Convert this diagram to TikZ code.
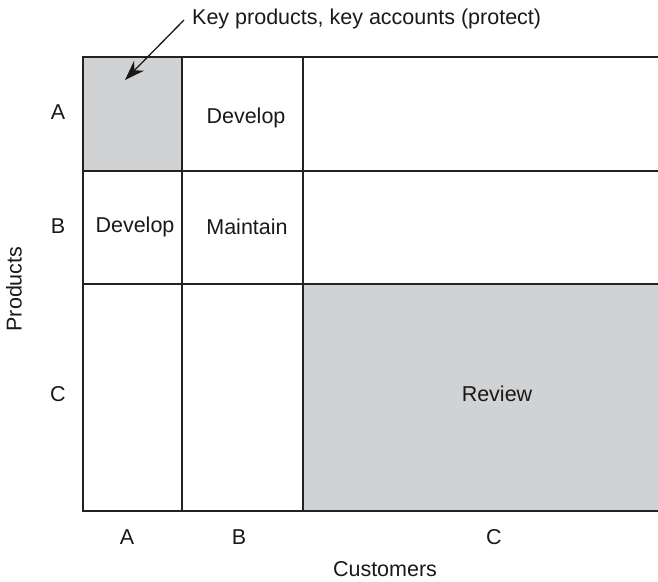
\documentclass[tikz,border=0pt]{standalone}
\usepackage{fontspec}
\setmainfont{Liberation Sans}
\usetikzlibrary{arrows.meta}
\definecolor{gridline}{HTML}{222222}
\definecolor{cellgray}{HTML}{D1D2D4}
\begin{document}
\begin{tikzpicture}[x=1pt,y=-1pt,
  every node/.style={font=\fontsize{21.5}{24}\selectfont, text=black!90, inner sep=0pt},
  cellbox/.style={draw=gridline, line width=1.8pt},
  pointer/.style={-{Stealth[length=20pt,width=14pt]}, line width=1.3pt, draw=black!90}]
\useasboundingbox (0,0) rectangle (658,581);
% shaded cells
\fill[cellgray] (83,57) rectangle (182,171);
\fill[cellgray] (303,284) rectangle (700,511);
% grid
\draw[cellbox] (83,57) rectangle (700,511);
\draw[cellbox] (182,57) -- (182,511);
\draw[cellbox] (303,57) -- (303,511);
\draw[cellbox] (83,171) -- (700,171);
\draw[cellbox] (83,284) -- (700,284);
% cell texts
\node (key) at (132,114) {};
\node (devA) at (246,118) {Develop};
\node (devB) at (135,227) {Develop};
\node (maint) at (247,227) {Maintain};
\node (review) at (497,394) {Review};
% row labels
\node (rA) at (58,112) {A};
\node (rB) at (58,226) {B};
\node (rC) at (58,394) {C};
% column labels
\node (cA) at (127,537) {A};
\node (cB) at (239,537) {B};
\node (cC) at (494,537) {C};
\node (cust) at (385,569) {Customers};
\node[rotate=90] (prod) at (14,289) {Products};
% annotation
\node[anchor=west] (note) at (192,19) {Key products, key accounts (protect)};
\coordinate (tip) at (125,80);
\coordinate (start) at (184,20);
\draw[pointer] (start) -- (tip);
\end{tikzpicture}
\end{document}
